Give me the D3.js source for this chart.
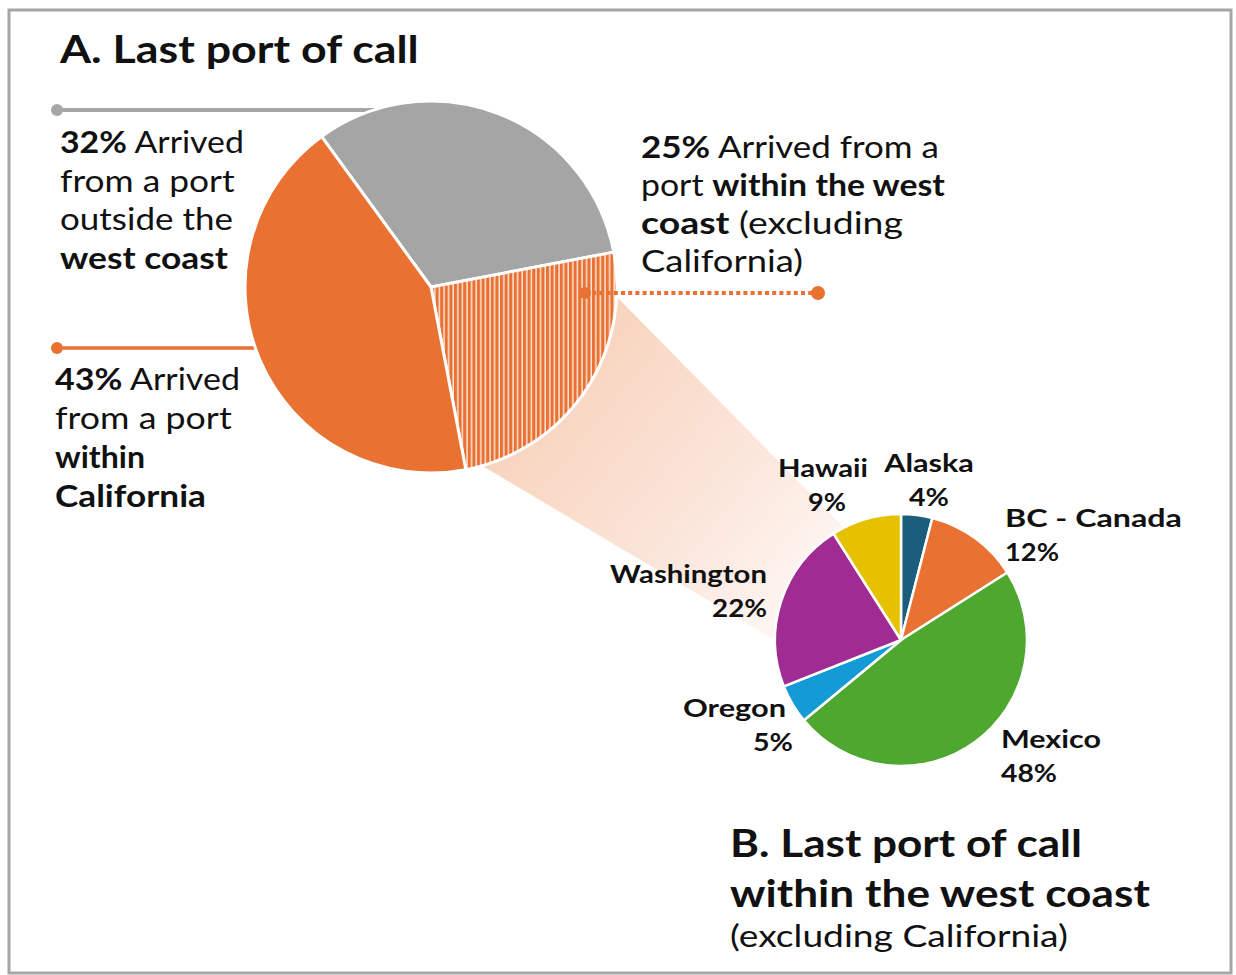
<!DOCTYPE html>
<html><head><meta charset="utf-8">
<script src="https://cdn.jsdelivr.net/npm/d3@7"></script>
<style>
html,body{margin:0;padding:0;background:#fff;}
svg{display:block;}
text{font-family:Lato,"Open Sans",sans-serif;fill:#111;}
</style></head>
<body>
<svg id="c" width="1236" height="975"></svg>
<script>
// ---- data ----
const bigCategories = ["Outside the west coast", "Within the west coast (excl. California)", "Within California"];
const bigValues = [32, 25, 43];
const smallCategories = ["Alaska", "BC - Canada", "Mexico", "Oregon", "Washington", "Hawaii"];
const smallValues = [4, 12, 48, 5, 22, 9];
const titleA = "A. Last port of call";
const titleB = ["B. Last port of call", "within the west coast", "(excluding California)"];
const noteOutside = [[["32%", 1], [" Arrived", 0]], [["from a port", 0]], [["outside the", 0]], [["west coast", 1]]];
const noteCalifornia = [[["43%", 1], [" Arrived", 0]], [["from a port", 0]], [["within", 1]], [["California", 1]]];
const noteWest = [[["25%", 1], [" Arrived from a", 0]], [["port ", 0], ["within the west", 1]], [["coast", 1], [" (excluding", 0]], [["California)", 0]]];

// ---- styles ----
const bigColors = ["#a5a5a5", "url(#hatch)", "#e97132"];
const smallColors = d3.scaleOrdinal().domain(smallCategories)
  .range(["#1b5d7c", "#e97132", "#4ea72e", "#149bd6", "#a02b93", "#e6c100"]);

const svg = d3.select("#c");
const defs = svg.append("defs");
const pat = defs.append("pattern").attr("id", "hatch").attr("patternUnits", "userSpaceOnUse")
  .attr("width", 4.6).attr("height", 10);
pat.append("rect").attr("width", 4.6).attr("height", 10).attr("fill", "#fbe4d7");
pat.append("rect").attr("width", 3.1).attr("height", 10).attr("fill", "#e97132");
const grad = defs.append("linearGradient").attr("id", "fade").attr("gradientUnits", "userSpaceOnUse")
  .attr("x1", 560).attr("y1", 360).attr("x2", 850).attr("y2", 600);
grad.append("stop").attr("offset", 0).attr("stop-color", "#f8d3bd");
grad.append("stop").attr("offset", 0.55).attr("stop-color", "#fbe6db");
grad.append("stop").attr("offset", 1).attr("stop-color", "#fffaf8");

// frame
svg.append("rect").attr("x", 9).attr("y", 10).attr("width", 1222).attr("height", 963)
  .attr("fill", "none").attr("stroke", "#a6a6a6").attr("stroke-width", 3);

// geometry
const big = {cx: 431, cy: 287, r: 186};
const small = {cx: 901, cy: 640, r: 126};
const pt = (c, a, r) => [c.cx + r * Math.sin(a), c.cy - r * Math.cos(a)];
const deg = d => d * Math.PI / 180;

// connector fade
const poly = [pt(big, deg(93), big.r), pt(small, deg(333), small.r), [small.cx, small.cy],
  pt(small, deg(270), small.r), pt(big, deg(164), big.r), [big.cx, big.cy]];
svg.append("path").attr("d", d3.line()(poly) + "Z").attr("fill", "url(#fade)");

// leader lines under pie
svg.append("line").attr("x1", 57).attr("y1", 110).attr("x2", big.cx).attr("y2", 110)
  .attr("stroke", "#a6a6a6").attr("stroke-width", 4);
svg.append("circle").attr("cx", 57).attr("cy", 110).attr("r", 6).attr("fill", "#a6a6a6");
svg.append("line").attr("x1", 57).attr("y1", 348).attr("x2", big.cx).attr("y2", 348)
  .attr("stroke", "#e97132").attr("stroke-width", 3.5);
svg.append("circle").attr("cx", 57).attr("cy", 348).attr("r", 6).attr("fill", "#e97132");

// big pie
const bigPie = d3.pie().sort(null).startAngle(-0.2 * Math.PI).endAngle(1.8 * Math.PI);
const bigArc = d3.arc().innerRadius(0).outerRadius(big.r);
svg.append("g").attr("transform", `translate(${big.cx},${big.cy})`)
  .selectAll("path").data(bigPie(bigValues)).join("path")
  .attr("d", bigArc).attr("fill", (d, i) => bigColors[i])
  .attr("stroke", "#fff").attr("stroke-width", 3).attr("stroke-linejoin", "round");

// dotted leader
svg.append("line").attr("x1", 585).attr("y1", 293).attr("x2", 818).attr("y2", 293)
  .attr("stroke", "#e97132").attr("stroke-width", 4).attr("stroke-dasharray", "4 3.2");
svg.append("circle").attr("cx", 585).attr("cy", 293).attr("r", 6).attr("fill", "#e97132");
svg.append("circle").attr("cx", 818).attr("cy", 293).attr("r", 7).attr("fill", "#e97132");

// small pie
const smallPie = d3.pie().sort(null);
const smallArc = d3.arc().innerRadius(0).outerRadius(small.r);
svg.append("g").attr("transform", `translate(${small.cx},${small.cy})`)
  .selectAll("path").data(smallPie(smallValues)).join("path")
  .attr("d", smallArc).attr("fill", (d, i) => smallColors(smallCategories[i]))
  .attr("stroke", "#fff").attr("stroke-width", 2.5).attr("stroke-linejoin", "round");

// text helper: parts=[[str,bold],...]
function line(parts, x, y, size, width, anchor) {
  const t = svg.append("text").attr("text-anchor", anchor || "start")
    .attr("font-size", size);
  parts.forEach(([s, b]) => t.append("tspan").text(s)
    .attr("font-weight", b ? 700 : 400).style("white-space", "pre"));
  t.attr("xml:space", "preserve");
  const w = t.node().getBBox().width;
  const sx = width ? width / w : 1;
  t.attr("transform", `translate(${x},${y}) scale(${sx},1)`);
  return t;
}

line([[titleA, 1]], 60, 63, 38, 360);

const wOut = [184, 175, 173, 168];
noteOutside.forEach((p, i) => line(p, 60, 153 + 38.5 * i, 30, wOut[i]));
const wCal = [185, 177, 90, 151];
noteCalifornia.forEach((p, i) => line(p, 55, 390 + 39 * i, 30, wCal[i]));
const wWest = [298, 304, 262, 162];
noteWest.forEach((p, i) => line(p, 641, 158 + 38 * i, 30, wWest[i]));

// small pie labels
const lab = {
  "Alaska": {x: 929, y: 472, a: "middle", w: 91, w2: 40},
  "BC - Canada": {x: 1005, y: 527, a: "start", w: 177, w2: 54},
  "Mexico": {x: 1001, y: 748, a: "start", w: 100, w2: 56},
  "Oregon": {x: 786, y: 717, a: "end", w: 103, w2: 40, dx2: 7},
  "Washington": {x: 767, y: 583, a: "end", w: 157, w2: 55},
  "Hawaii": {x: 823, y: 477, a: "middle", w: 90, w2: 38, dx2: 4}
};
smallCategories.forEach((c, i) => {
  const L = lab[c];
  line([[c, 1]], L.x, L.y, 25, L.w, L.a);
  line([[smallValues[i] + "%", 1]], L.x + (L.dx2 || 0), L.y + 34, 25, L.w2, L.a);
});

line([[titleB[0], 1]], 730, 857, 38, 352);
line([[titleB[1], 1]], 730, 907, 38, 420);
line([[titleB[2], 0]], 730, 947, 30, 338);
</script>
</body></html>
